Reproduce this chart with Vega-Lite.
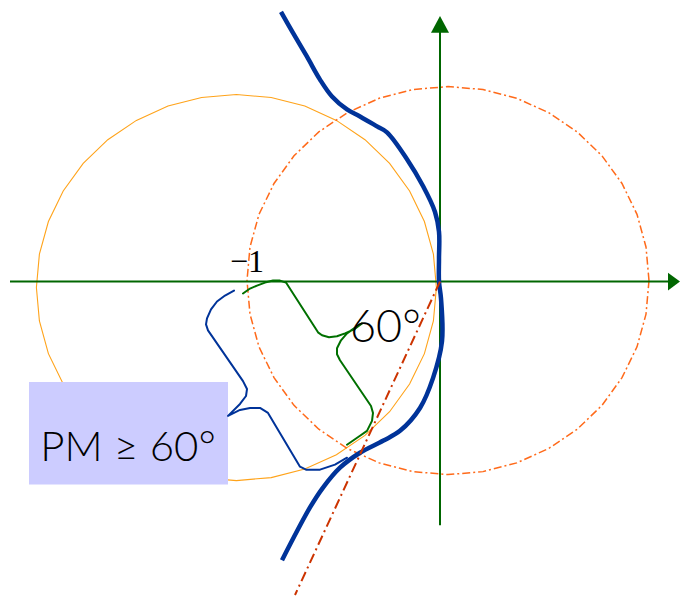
{
  "$schema": "https://vega.github.io/schema/vega-lite/v6.json",
  "width": 680,
  "height": 599,
  "autosize": {"type": "fit", "contains": "padding"},
  "padding": 0,
  "background": "white",
  "config": {"view": {"stroke": null}},
  "datasets": {
    "orangeCircle": [
      {"x": -0.018, "y": -0.03}, {"x": -0.033, "y": 0.138}, {"x": -0.078, "y": 0.302}, {"x": -0.152, "y": 0.455},
      {"x": -0.252, "y": 0.594}, {"x": -0.375, "y": 0.713}, {"x": -0.518, "y": 0.81}, {"x": -0.676, "y": 0.882},
      {"x": -0.844, "y": 0.925}, {"x": -1.018, "y": 0.94}, {"x": -1.192, "y": 0.925}, {"x": -1.36, "y": 0.882},
      {"x": -1.518, "y": 0.81}, {"x": -1.661, "y": 0.713}, {"x": -1.784, "y": 0.594}, {"x": -1.884, "y": 0.455},
      {"x": -1.958, "y": 0.302}, {"x": -2.003, "y": 0.138}, {"x": -2.018, "y": -0.03}, {"x": -2.003, "y": -0.198},
      {"x": -1.958, "y": -0.362}, {"x": -1.884, "y": -0.515}, {"x": -1.784, "y": -0.654}, {"x": -1.661, "y": -0.773},
      {"x": -1.518, "y": -0.87}, {"x": -1.36, "y": -0.942}, {"x": -1.192, "y": -0.985}, {"x": -1.018, "y": -1.0},
      {"x": -0.844, "y": -0.985}, {"x": -0.676, "y": -0.942}, {"x": -0.518, "y": -0.87}, {"x": -0.375, "y": -0.773},
      {"x": -0.252, "y": -0.654}, {"x": -0.152, "y": -0.515}, {"x": -0.078, "y": -0.362}, {"x": -0.033, "y": -0.198},
      {"x": -0.018, "y": -0.03}
    ],
    "unitCircle": [
      {"x": 1.045, "y": 0.005}, {"x": 1.03, "y": 0.174}, {"x": 0.985, "y": 0.338}, {"x": 0.91, "y": 0.493},
      {"x": 0.81, "y": 0.632}, {"x": 0.686, "y": 0.752}, {"x": 0.543, "y": 0.849}, {"x": 0.384, "y": 0.921},
      {"x": 0.215, "y": 0.965}, {"x": 0.04, "y": 0.98}, {"x": -0.135, "y": 0.965}, {"x": -0.304, "y": 0.921},
      {"x": -0.463, "y": 0.849}, {"x": -0.606, "y": 0.752}, {"x": -0.73, "y": 0.632}, {"x": -0.83, "y": 0.493},
      {"x": -0.905, "y": 0.338}, {"x": -0.95, "y": 0.174}, {"x": -0.965, "y": 0.005}, {"x": -0.95, "y": -0.164},
      {"x": -0.905, "y": -0.328}, {"x": -0.83, "y": -0.483}, {"x": -0.73, "y": -0.622}, {"x": -0.606, "y": -0.742},
      {"x": -0.463, "y": -0.839}, {"x": -0.304, "y": -0.911}, {"x": -0.135, "y": -0.955}, {"x": 0.04, "y": -0.97},
      {"x": 0.215, "y": -0.955}, {"x": 0.384, "y": -0.911}, {"x": 0.543, "y": -0.839}, {"x": 0.686, "y": -0.742},
      {"x": 0.81, "y": -0.622}, {"x": 0.91, "y": -0.483}, {"x": 0.985, "y": -0.328}, {"x": 1.03, "y": -0.164},
      {"x": 1.045, "y": 0.005}
    ],
    "hAxis": [{"x": -2.15, "y": 0}, {"x": 1.15, "y": 0}],
    "vAxis": [{"x": 0, "y": -1.225}, {"x": 0, "y": 1.26}],
    "hArrow": [{"x": 1.14, "y": 0.045, "y2": -0.045}, {"x": 1.2, "y": 0, "y2": 0}],
    "vArrow": [{"y": 1.25, "x": -0.045, "x2": 0.045}, {"y": 1.335, "x": 0, "x2": 0}],
    "pmLine": [{"x": 0, "y": 0}, {"x": -0.725, "y": -1.575}],
    "box": [{"x": -2.055, "x2": -1.06, "y": -0.505, "y2": -1.02}],
    "nyquist": [
      {"x": -0.795, "y": 1.355}, {"x": -0.735, "y": 1.25}, {"x": -0.665, "y": 1.13}, {"x": -0.6, "y": 1.015},
      {"x": -0.54, "y": 0.93}, {"x": -0.465, "y": 0.865}, {"x": -0.4, "y": 0.83}, {"x": -0.315, "y": 0.78},
      {"x": -0.265, "y": 0.75}, {"x": -0.165, "y": 0.615}, {"x": -0.085, "y": 0.48}, {"x": -0.025, "y": 0.35},
      {"x": -0.005, "y": 0.25}, {"x": -0.005, "y": 0.115}, {"x": -0.005, "y": 0}, {"x": 0.005, "y": -0.085},
      {"x": 0.01, "y": -0.3}, {"x": -0.035, "y": -0.485}, {"x": -0.1, "y": -0.635}, {"x": -0.2, "y": -0.75},
      {"x": -0.285, "y": -0.8}, {"x": -0.4, "y": -0.86}, {"x": -0.5, "y": -0.935}, {"x": -0.585, "y": -1.035},
      {"x": -0.65, "y": -1.135}, {"x": -0.79, "y": -1.4}
    ],
    "greenBrace": [
      {"x": -0.985, "y": -0.06}, {"x": -0.95, "y": -0.035}, {"x": -0.915, "y": -0.02}, {"x": -0.875, "y": -0.005},
      {"x": -0.835, "y": 0.005}, {"x": -0.8, "y": 0.005}, {"x": -0.77, "y": -0.005}, {"x": -0.61, "y": -0.255},
      {"x": -0.59, "y": -0.27}, {"x": -0.555, "y": -0.28}, {"x": -0.515, "y": -0.275}, {"x": -0.475, "y": -0.26},
      {"x": -0.43, "y": -0.24}, {"x": -0.39, "y": -0.21}, {"x": -0.43, "y": -0.235}, {"x": -0.465, "y": -0.26},
      {"x": -0.495, "y": -0.295}, {"x": -0.515, "y": -0.335}, {"x": -0.515, "y": -0.365}, {"x": -0.5, "y": -0.395},
      {"x": -0.345, "y": -0.625}, {"x": -0.335, "y": -0.66}, {"x": -0.34, "y": -0.7}, {"x": -0.365, "y": -0.75},
      {"x": -0.4, "y": -0.775}, {"x": -0.465, "y": -0.82}
    ],
    "blueBrace": [
      {"x": -1.03, "y": -0.045}, {"x": -1.075, "y": -0.07}, {"x": -1.115, "y": -0.1}, {"x": -1.145, "y": -0.14},
      {"x": -1.165, "y": -0.185}, {"x": -1.17, "y": -0.215}, {"x": -1.16, "y": -0.245}, {"x": -0.985, "y": -0.5},
      {"x": -0.965, "y": -0.54}, {"x": -0.97, "y": -0.575}, {"x": -1.0, "y": -0.615}, {"x": -1.06, "y": -0.675},
      {"x": -1.0, "y": -0.645}, {"x": -0.95, "y": -0.635}, {"x": -0.9, "y": -0.635}, {"x": -0.86, "y": -0.66},
      {"x": -0.7, "y": -0.93}, {"x": -0.67, "y": -0.945}, {"x": -0.6, "y": -0.945}, {"x": -0.525, "y": -0.92},
      {"x": -0.465, "y": -0.885}
    ],
    "labelMinus1": [{"x": -0.965, "y": 0.05, "text": "−1"}],
    "label60": [{"x": -0.45, "y": -0.305, "text": "60°"}],
    "labelPM": [{"x": -1.56, "y": -0.9, "text": "PM ≥ 60°"}]
  },
  "encoding": {
    "x": {"field": "x", "type": "quantitative", "scale": {"domain": [-2.2, 1.2], "nice": false, "zero": false}, "axis": null},
    "y": {"field": "y", "type": "quantitative", "scale": {"domain": [-1.58, 1.415], "nice": false, "zero": false}, "axis": null}
  },
  "layer": [
    {
      "data": {"name": "orangeCircle"},
      "mark": {"type": "line", "color": "#FFA31A", "strokeWidth": 1.1},
      "encoding": {"order": {"value": null}}
    },
    {
      "data": {"name": "unitCircle"},
      "mark": {"type": "line", "color": "#FF6A1A", "strokeWidth": 1.5, "strokeDash": [8, 3, 2, 3]},
      "encoding": {"order": {"value": null}}
    },
    {
      "data": {"name": "hAxis"},
      "mark": {"type": "line", "color": "#006600", "strokeWidth": 2},
      "encoding": {}
    },
    {
      "data": {"name": "vAxis"},
      "mark": {"type": "line", "color": "#006600", "strokeWidth": 2},
      "encoding": {"order": {"value": null}}
    },
    {
      "data": {"name": "hArrow"},
      "mark": {"type": "area", "orient": "vertical", "color": "#006600", "opacity": 1},
      "encoding": {"y2": {"field": "y2"}}
    },
    {
      "data": {"name": "vArrow"},
      "mark": {"type": "area", "orient": "horizontal", "color": "#006600", "opacity": 1},
      "encoding": {"x2": {"field": "x2"}}
    },
    {
      "data": {"name": "box"},
      "mark": {"type": "rect", "color": "#CCCCFF", "opacity": 1},
      "encoding": {"x2": {"field": "x2"}, "y2": {"field": "y2"}}
    },
    {
      "data": {"name": "nyquist"},
      "mark": {"type": "line", "color": "#003399", "strokeWidth": 4.5, "interpolate": "catmull-rom", "strokeCap": "butt"},
      "encoding": {"order": {"value": null}}
    },
    {
      "data": {"name": "pmLine"},
      "mark": {"type": "line", "color": "#CC3300", "strokeWidth": 2, "strokeDash": [10, 4, 2, 4]},
      "encoding": {"order": {"value": null}}
    },
    {
      "data": {"name": "greenBrace"},
      "mark": {"type": "line", "color": "#007000", "strokeWidth": 2, "strokeJoin": "round", "strokeCap": "round"},
      "encoding": {"order": {"value": null}}
    },
    {
      "data": {"name": "blueBrace"},
      "mark": {"type": "line", "color": "#003399", "strokeWidth": 2, "strokeJoin": "round", "strokeCap": "round"},
      "encoding": {"order": {"value": null}}
    },
    {
      "data": {"name": "labelMinus1"},
      "mark": {"type": "text", "font": "Liberation Serif", "fontSize": 32, "align": "center", "baseline": "alphabetic", "color": "black"},
      "encoding": {"text": {"field": "text"}}
    },
    {
      "data": {"name": "label60"},
      "mark": {"type": "text", "font": "Lato", "fontWeight": 300, "fontSize": 45, "align": "left", "baseline": "alphabetic", "color": "black"},
      "encoding": {"text": {"field": "text"}}
    },
    {
      "data": {"name": "labelPM"},
      "mark": {"type": "text", "font": "Lato", "fontWeight": 300, "fontSize": 42, "align": "center", "baseline": "alphabetic", "color": "black"},
      "encoding": {"text": {"field": "text"}}
    }
  ]
}
